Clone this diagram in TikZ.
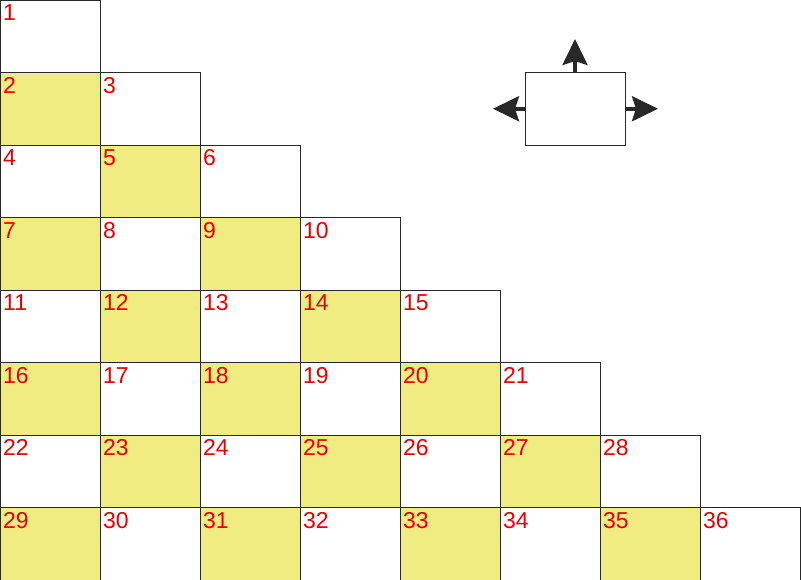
\documentclass[tikz,border=0pt]{standalone}
\usepackage{fontspec}
\setmainfont{Liberation Sans}
\usetikzlibrary{arrows.meta}
\definecolor{cellyellow}{RGB}{240,236,130}
\definecolor{numred}{RGB}{230,0,0}
\definecolor{edgegray}{RGB}{40,40,40}
\newlength\width
\setlength\width{100pt}
\newlength\height
\setlength\height{72.5pt}

\begin{document}
\begin{tikzpicture}[x=1pt,y=1pt,
    cell/.style={draw=edgegray,line width=0.8pt},
    shaded/.style={cell,fill=cellyellow},
    num/.style={anchor=north west,inner xsep=3pt,inner ysep=4.5pt,text=numred,
      font=\fontsize{23}{23}\selectfont},
    push/.style={-{Stealth[length=26pt,width=25pt,inset=4pt]},line width=4pt,draw=edgegray}]
    \useasboundingbox (0,0) rectangle (801,-580);

    % staircase cells
    \foreach \i in {1,...,8} {
      \foreach \j in {1,...,\i} {
        \pgfmathtruncatemacro\n{\i*(\i-1)/2+\j}
        \ifodd\numexpr\i+\j\relax \def\look{shaded}\else\def\look{cell}\fi

        % cell
        \draw[\look] (\j*\width-\width,-\i*\height+\height) rectangle ++(\width,-\height);

        \node[num] (n\n) at (\j*\width-\width,-\i*\height+\height) {\n};
      }
    }

    % moving box
    \node[cell,minimum width=\width,minimum height=\height,inner sep=0pt] (box) at (575,-108.75) {};
    \coordinate (up) at (575,-39);
    \coordinate (left) at (493,-108.75);
    \coordinate (right) at (658,-108.75);
    \draw[push] (box.north) -- (up);
    \draw[push] (box.west) -- (left);
    \draw[push] (box.east) -- (right);
  \end{tikzpicture}
\end{document}
